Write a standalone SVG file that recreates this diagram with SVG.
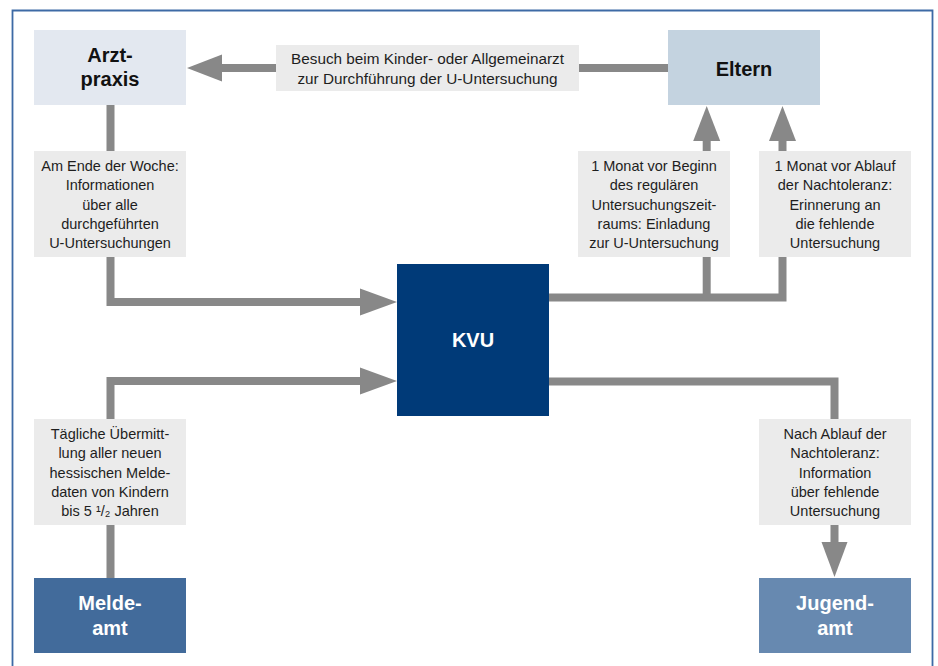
<svg xmlns="http://www.w3.org/2000/svg" width="938" height="666" viewBox="0 0 938 666">
<style>
.lbl{fill:#ebebeb}
.lt{font-family:"Liberation Sans",Arial,sans-serif;font-size:14.5px;fill:#1e1e1e;text-anchor:middle}
.big{font-size:15.3px}
.nt{font-family:"Liberation Sans",Arial,sans-serif;font-size:20px;font-weight:bold;text-anchor:middle}
.dark{fill:#111}
.light{fill:#fff}
.line{fill:none;stroke:#888;stroke-width:8}
.head{fill:#888}
</style>
<rect x="0" y="0" width="938" height="666" fill="#fff"/>
<path d="M12.5 666 V10.5 H932.5 V666" fill="none" stroke="#3d6aa5" stroke-width="1.8"/>

<g id="connectors">
  <path class="line" d="M668 68 H220"/>
  <polygon class="head" points="222,54.5 222,81.5 187,68"/>
  <path class="line" d="M110.5 105 V302 H362"/>
  <polygon class="head" points="360,288.5 360,315.5 397,302"/>
  <path class="line" d="M110.5 578 V381 H362"/>
  <polygon class="head" points="360,367.5 360,394.5 397,381"/>
  <path class="line" d="M548 297.5 H782.5 V139"/>
  <path class="line" d="M706.7 297.5 V139"/>
  <polygon class="head" points="693.2,141 720.2,141 706.7,106"/>
  <polygon class="head" points="769,141 796,141 782.5,106"/>
  <path class="line" d="M548 381.5 H834.5 V544"/>
  <polygon class="head" points="821.5,542 847.5,542 834.5,577"/>
</g>

<g id="label-besuch">
  <rect class="lbl" x="276" y="45" width="303" height="46"/>
  <text class="lt big" x="427.5" y="64">Besuch beim Kinder- oder Allgemeinarzt</text>
  <text class="lt big" x="427.5" y="83.5">zur Durchführung der U-Untersuchung</text>
</g>
<g id="label-woche">
  <rect class="lbl" x="34" y="151" width="152" height="106"/>
  <text class="lt" x="110" y="171">Am Ende der Woche:</text>
  <text class="lt" x="110" y="190.3">Informationen</text>
  <text class="lt" x="110" y="209.6">über alle</text>
  <text class="lt" x="110" y="229">durchgeführten</text>
  <text class="lt" x="110" y="248.2">U-Untersuchungen</text>
</g>
<g id="label-einladung">
  <rect class="lbl" x="578" y="151" width="152" height="106"/>
  <text class="lt" x="654" y="171">1 Monat vor Beginn</text>
  <text class="lt" x="654" y="190.3">des regulären</text>
  <text class="lt" x="654" y="209.6">Untersuchungszeit-</text>
  <text class="lt" x="654" y="229">raums: Einladung</text>
  <text class="lt" x="654" y="248.2">zur U-Untersuchung</text>
</g>
<g id="label-erinnerung">
  <rect class="lbl" x="759" y="151" width="152" height="106"/>
  <text class="lt" x="835" y="171">1 Monat vor Ablauf</text>
  <text class="lt" x="835" y="190.3">der Nachtoleranz:</text>
  <text class="lt" x="835" y="209.6">Erinnerung an</text>
  <text class="lt" x="835" y="229">die fehlende</text>
  <text class="lt" x="835" y="248.2">Untersuchung</text>
</g>
<g id="label-meldedaten">
  <rect class="lbl" x="34" y="419" width="152" height="106"/>
  <text class="lt" x="110" y="439">Tägliche Übermitt-</text>
  <text class="lt" x="110" y="458.3">lung aller neuen</text>
  <text class="lt" x="110" y="477.6">hessischen Melde-</text>
  <text class="lt" x="110" y="497">daten von Kindern</text>
  <text class="lt" x="110" y="516.2">bis 5 ¹/₂ Jahren</text>
</g>
<g id="label-jugendamt">
  <rect class="lbl" x="759" y="419" width="152" height="106"/>
  <text class="lt" x="835" y="439">Nach Ablauf der</text>
  <text class="lt" x="835" y="458.3">Nachtoleranz:</text>
  <text class="lt" x="835" y="477.6">Information</text>
  <text class="lt" x="835" y="497">über fehlende</text>
  <text class="lt" x="835" y="516.2">Untersuchung</text>
</g>

<g id="node-arztpraxis">
  <rect x="34" y="30" width="152" height="75" fill="#e3e8f0"/>
  <text class="nt dark" x="110" y="62.3">Arzt-</text>
  <text class="nt dark" x="110" y="86.3">praxis</text>
</g>
<g id="node-eltern">
  <rect x="668" y="30" width="152" height="75" fill="#c4d3e0"/>
  <text class="nt dark" x="744" y="76">Eltern</text>
</g>
<g id="node-kvu">
  <rect x="397" y="264" width="152" height="152" fill="#003a78"/>
  <text class="nt light" x="473" y="347">KVU</text>
</g>
<g id="node-meldeamt">
  <rect x="34" y="578" width="152" height="75" fill="#426b9b"/>
  <text class="nt light" x="110" y="610.3">Melde-</text>
  <text class="nt light" x="110" y="635.3">amt</text>
</g>
<g id="node-jugendamt">
  <rect x="759" y="578" width="152" height="75" fill="#6789b0"/>
  <text class="nt light" x="835" y="610.3">Jugend-</text>
  <text class="nt light" x="835" y="635.3">amt</text>
</g>
</svg>
